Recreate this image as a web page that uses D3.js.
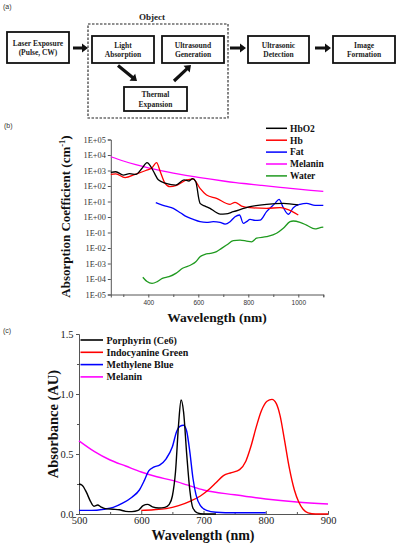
<!DOCTYPE html>
<html><head><meta charset="utf-8">
<script src="https://cdn.jsdelivr.net/npm/d3@7"></script>
<style>body{margin:0;background:#fff}svg{display:block}</style>
</head><body>
<svg id="fig" width="399" height="550"></svg>
<script>
// ---------- Panel (b) data: absorption coefficient (cm^-1) ----------
const bLegend = ["HbO2", "Hb", "Fat", "Melanin", "Water"];
const hbo2Wl  = [250,270,300,325,350,375,395,410,425,440,470,510,543,563,577,590,603,607,627,647,667,687,710,740,807,873,940,1000];
const hbo2Val = [760,830,510,620,560,1400,3200,1800,650,250,150,115,250,210,300,190,12.6,7.6,5,3.6,2.2,1.55,1.6,2.2,4.6,6.6,7.6,6.0];
const hbWl    = [250,270,307,350,390,415,433,448,467,487,513,553,580,607,633,673,727,747,773,807,873,927,953,1000];
const hbVal   = [560,600,350,590,1000,1500,3200,830,150,90,110,245,280,70,26,16,6.6,8.9,5.1,4.0,3.6,4.0,3.2,1.35];
const fatWl   = [430,470,500,530,553,580,607,633,660,687,707,727,747,765,780,793,807,827,847,873,907,923,940,960,980,1007,1033,1067,1100];
const fatVal  = [8.5,5,3.6,1.8,1.05,0.7,0.5,0.45,0.5,0.45,0.35,0.5,1.05,1.35,0.39,0.5,0.7,0.6,0.63,2.2,7.6,13.8,4,1.5,4,6.6,7.6,5.6,5.6];
const melBWl  = [250,300,350,400,450,500,550,600,650,700,750,800,850,900,950,1000,1050,1100];
const melBVal = [7700,4100,2400,1500,990,680,490,365,275,210,165,135,110,90,75,62,53,45];
const waterWl = [378,395,415,436,456,483,510,537,570,590,607,627,647,673,693,713,740,767,793,813,833,873,913,940,967,980,1007,1033,1067,1085,1100];
const waterVal= [1.3e-4,6.8e-5,5.2e-5,6.8e-5,1.1e-4,1.4e-4,2.3e-4,4.9e-4,8e-4,1.3e-3,2.75e-3,3.9e-3,4.5e-3,5.8e-3,9.5e-3,0.0155,0.0295,0.032,0.028,0.025,0.043,0.054,0.089,0.186,0.5,0.55,0.45,0.3,0.17,0.2,0.22];
const bXTicks = [400,600,800,1000];
const bYExps  = [5,4,3,2,1,0,-1,-2,-3,-4,-5];

// ---------- Panel (c) data: absorbance (AU) ----------
const cLegend = ["Porphyrin (Ce6)", "Indocyanine Green", "Methylene Blue", "Melanin"];
const ce6Wl   = [500,505,512,518,524,530,535,542,555,565,575,585,595,603,610,618,628,638,645,650,655,660,664,668,673,678,683,690,700,720];
const ce6Val  = [0.25,0.24,0.18,0.11,0.065,0.075,0.06,0.045,0.04,0.035,0.022,0.02,0.03,0.07,0.08,0.06,0.05,0.055,0.08,0.15,0.35,0.75,0.95,0.85,0.5,0.2,0.05,0.01,0.0,0.0];
const icgWl   = [600,620,640,660,680,695,710,720,732,745,758,768,776,785,793,802,810,817,823,830,838,846,853,860,868,880,900];
const icgVal  = [0.03,0.035,0.045,0.07,0.11,0.15,0.21,0.26,0.32,0.345,0.37,0.44,0.56,0.73,0.86,0.94,0.955,0.92,0.82,0.62,0.38,0.2,0.1,0.04,0.01,0.0,0.0];
const mbWl    = [500,520,540,555,570,585,597,605,612,620,630,640,650,657,662,668,673,678,683,688,695,705,720,750,800];
const mbVal   = [0.03,0.03,0.04,0.055,0.09,0.14,0.2,0.28,0.36,0.39,0.41,0.46,0.56,0.69,0.73,0.74,0.69,0.52,0.3,0.16,0.07,0.03,0.015,0.01,0.01];
const melCWl  = [500,525,550,575,600,625,650,675,700,750,800,850,900];
const melCVal = [0.61,0.52,0.45,0.40,0.35,0.31,0.28,0.24,0.2,0.16,0.125,0.1,0.083];
const cXTicks = [500,600,700,800,900];
const cYTicks = [0.0,0.5,1.0,1.5];

// ---------- Panel (a) diagram text ----------
const boxLabels = [["Laser Exposure","(Pulse, CW)"],["Light","Absorption"],["Ultrasound","Generation"],["Thermal","Expansion"],["Ultrasonic","Detection"],["Image","Formation"]];

const svg = d3.select("#fig");
const serif = "'Liberation Serif','Times New Roman',serif";
const sans = "'Liberation Sans',Arial,sans-serif";

// ================= Panel (a) =================
svg.append("text").attr("x",3).attr("y",9).attr("font-family",sans).attr("font-size",7).attr("fill","#333").text("(a)");
svg.append("text").attr("x",152).attr("y",20).attr("text-anchor","middle").attr("font-family",serif)
  .attr("font-weight","bold").attr("font-size",9).attr("fill","#222").text("Object");
svg.append("rect").attr("x",88).attr("y",24).attr("width",140).attr("height",94)
  .attr("fill","none").attr("stroke","#222").attr("stroke-width",1.1).attr("stroke-dasharray","2.5,1.5");
const boxes = [[7,32,62,31],[92,36,62,27],[162,36,62,27],[124,87,63,24],[248,36,61,27],[333,36,62,27]];
boxes.forEach((b,i)=>{
  svg.append("rect").attr("x",b[0]).attr("y",b[1]).attr("width",b[2]).attr("height",b[3])
    .attr("fill","#fff").attr("stroke","#111").attr("stroke-width",1.8);
  const cx=b[0]+b[2]/2, cy=b[1]+b[3]/2;
  boxLabels[i].forEach((t,j)=>{
    svg.append("text").attr("x",cx).attr("y",cy-4.7+j*9.6+2.8).attr("text-anchor","middle")
      .attr("font-family",serif).attr("font-weight","bold").attr("font-size",7.5).attr("fill","#222").text(t);
  });
});
function arrow(x1,y1,x2,y2){
  const dx=x2-x1, dy=y2-y1, L=Math.hypot(dx,dy), ux=dx/L, uy=dy/L, px=-uy, py=ux;
  const hl=6, hw=4.5, sw=1.6;
  const bx=x2-ux*hl, by=y2-uy*hl;
  const pts=[[x1+px*sw,y1+py*sw],[bx+px*sw,by+py*sw],[bx+px*hw,by+py*hw],[x2,y2],[bx-px*hw,by-py*hw],[bx-px*sw,by-py*sw],[x1-px*sw,y1-py*sw]];
  svg.append("path").attr("d",d3.line()(pts)+"Z").attr("fill","#111");
}
arrow(73,48,88,48);
arrow(230,48,246,48);
arrow(315,48,331,48);
arrow(118,65.5,137,81);
arrow(174,81,191,65);

// ================= Panel (b) =================
svg.append("text").attr("x",4).attr("y",128).attr("font-family",sans).attr("font-size",7).attr("fill","#333").text("(b)");
const xB = d3.scaleLinear().domain([250,1100]).range([110.8,323.3]);
const yB = d3.scaleLog().domain([1e-5,1e5]).range([294.5,139.5]);
const gB = svg.append("g");
const fmtE = v => { const e=Math.round(Math.log10(v)); return "1E"+(e<0?"-":"+")+String(Math.abs(e)).padStart(2,"0"); };
const yAxB = gB.append("g").attr("transform","translate(110.8,0)")
  .call(d3.axisLeft(yB).tickValues(bYExps.map(e=>Math.pow(10,e))).tickFormat(fmtE).tickSize(3).tickPadding(2));
yAxB.selectAll("text").attr("font-family",serif).attr("font-size",8.3).attr("fill","#333");
const xAxB = gB.append("g").attr("transform","translate(0,294.5)")
  .call(d3.axisBottom(xB).tickValues(bXTicks).tickFormat(d3.format("d")).tickSize(3).tickPadding(2.5));
xAxB.selectAll("text").attr("font-family",sans).attr("font-size",6.5).attr("fill","#333");
gB.append("g").attr("transform","translate(0,294.5)")
  .call(d3.axisBottom(xB).tickValues([300,500,700,900,1100]).tickFormat("").tickSize(2.5))
  .select(".domain").remove();
gB.selectAll(".domain,.tick line").attr("stroke","#555");
const bSeries = [
  [hbo2Wl,hbo2Val,"#000000"],[hbWl,hbVal,"#ff0000"],[fatWl,fatVal,"#0000ff"],[melBWl,melBVal,"#ff00ff"],[waterWl,waterVal,"#1f9a1f"]];
const lineB = d3.line().x(d=>xB(d[0])).y(d=>yB(d[1])).curve(d3.curveMonotoneX);
const drawOrder=[3,4,2,1,0];
drawOrder.forEach(i=>{
  const s=bSeries[i];
  gB.append("path").datum(s[0].map((w,k)=>[w,s[1][k]])).attr("d",lineB)
    .attr("fill","none").attr("stroke",s[2]).attr("stroke-width",1.3);
});
bLegend.forEach((n,i)=>{
  const y=128.3+i*11.9;
  gB.append("line").attr("x1",266).attr("x2",287).attr("y1",y).attr("y2",y).attr("stroke",bSeries[i][2]).attr("stroke-width",1.5);
  gB.append("text").attr("x",290).attr("y",y+3.3).attr("font-family",serif).attr("font-weight","bold")
    .attr("font-size",9.5).attr("fill","#111").text(n);
});
gB.append("text").attr("x",217).attr("y",321.5).attr("text-anchor","middle").attr("font-family",serif)
  .attr("font-weight","bold").attr("font-size",13.5).attr("fill","#111").text("Wavelength (nm)");
const ytB = gB.append("text").attr("transform","translate(69.5,216.5) rotate(-90)").attr("text-anchor","middle")
  .attr("font-family",serif).attr("font-weight","bold").attr("font-size",13).attr("fill","#111");
ytB.append("tspan").text("Absorption Coefficient (cm");
ytB.append("tspan").attr("dy",-4.5).attr("font-size",8.5).text("-1");
ytB.append("tspan").attr("dy",4.5).text(")");

// ================= Panel (c) =================
svg.append("text").attr("x",3).attr("y",333).attr("font-family",sans).attr("font-size",7).attr("fill","#333").text("(c)");
const xC = d3.scaleLinear().domain([500,900]).range([79,328]);
const yC = d3.scaleLinear().domain([0,1.5]).range([514,334]);
const gC = svg.append("g");
const yAxC = gC.append("g").attr("transform","translate(79,0)")
  .call(d3.axisLeft(yC).tickValues(cYTicks).tickFormat(d3.format(".1f")).tickSize(3).tickPadding(2.5));
yAxC.selectAll("text").attr("font-family",serif).attr("font-size",10.5).attr("fill","#222");
gC.append("g").attr("transform","translate(79,0)")
  .call(d3.axisLeft(yC).tickValues([0.25,0.75,1.25]).tickFormat("").tickSize(2))
  .select(".domain").remove();
const xAxC = gC.append("g").attr("transform","translate(0,514)")
  .call(d3.axisBottom(xC).tickValues(cXTicks).tickFormat(d3.format("d")).tickSize(-3).tickPadding(2.5));
xAxC.selectAll("text").attr("font-family",serif).attr("font-size",10.5).attr("fill","#222");
gC.append("g").attr("transform","translate(0,514)")
  .call(d3.axisBottom(xC).tickValues([550,650,750,850]).tickFormat("").tickSize(-2))
  .select(".domain").remove();
gC.selectAll(".domain,.tick line").attr("stroke","#555");
const cSeries = [[ce6Wl,ce6Val,"#000000"],[icgWl,icgVal,"#ff0000"],[mbWl,mbVal,"#0000ff"],[melCWl,melCVal,"#ff00ff"]];
const lineC = d3.line().x(d=>xC(d[0])).y(d=>yC(d[1])).curve(d3.curveMonotoneX);
[3,1,2,0].forEach(i=>{
  const s=cSeries[i];
  gC.append("path").datum(s[0].map((w,k)=>[w,s[1][k]])).attr("d",lineC)
    .attr("fill","none").attr("stroke",s[2]).attr("stroke-width",1.4);
});
cLegend.forEach((n,i)=>{
  const y=340+i*12.3;
  gC.append("line").attr("x1",80.5).attr("x2",103).attr("y1",y).attr("y2",y).attr("stroke",cSeries[i][2]).attr("stroke-width",1.6);
  gC.append("text").attr("x",106.5).attr("y",y+3.5).attr("font-family",serif).attr("font-weight","bold")
    .attr("font-size",10).attr("fill","#111").text(n);
});
gC.append("text").attr("x",203).attr("y",540).attr("text-anchor","middle").attr("font-family",serif)
  .attr("font-weight","bold").attr("font-size",14).attr("fill","#111").text("Wavelength (nm)");
gC.append("text").attr("transform","translate(58,424) rotate(-90)").attr("text-anchor","middle")
  .attr("font-family",serif).attr("font-weight","bold").attr("font-size",14.5).attr("fill","#111").text("Absorbance (AU)");
</script>
</body></html>
